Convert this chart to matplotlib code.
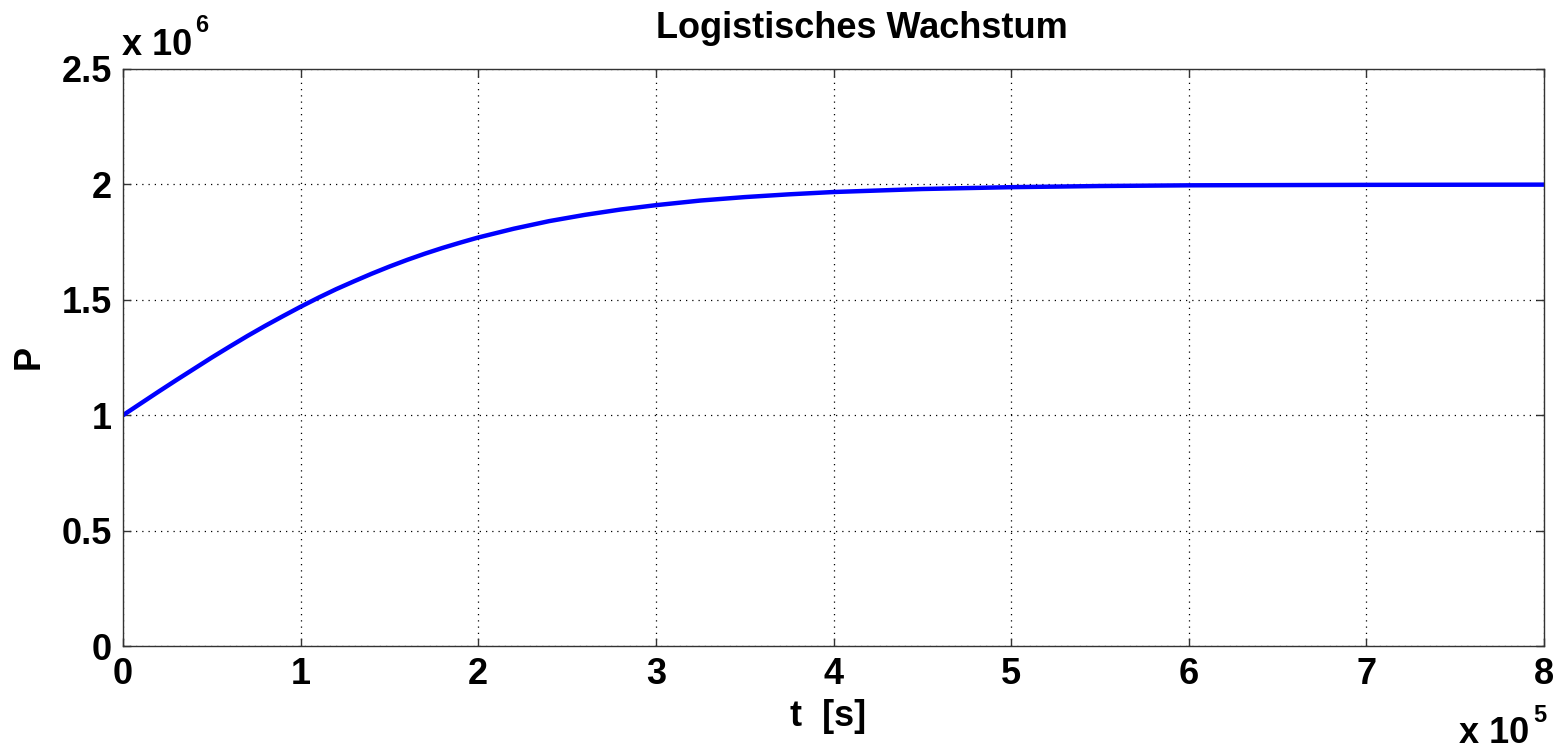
import numpy as np
import matplotlib
matplotlib.use("Agg")
import matplotlib.pyplot as plt

plt.rcParams["font.family"] = ["Liberation Sans", "DejaVu Sans"]
plt.rcParams["font.weight"] = "bold"

# time in units of 1e5 s, population in units of 1e6
t_e5 = [0, 0.1, 0.2, 0.3, 0.4, 0.5, 0.6, 0.7, 0.8, 0.9, 1.0, 1.1, 1.2, 1.3, 1.4, 1.5,
        1.6, 1.7, 1.8, 1.9, 2.0, 2.2, 2.4, 2.6, 2.8, 3.0, 3.25, 3.5, 3.75, 4.0, 4.5,
        5.0, 5.5, 6.0, 6.5, 7.0, 8.0]
p_e6 = [1.000, 1.051, 1.102, 1.152, 1.201, 1.250, 1.297, 1.343, 1.387, 1.429, 1.470,
        1.509, 1.546, 1.580, 1.613, 1.644, 1.673, 1.700, 1.725, 1.748, 1.770, 1.808,
        1.841, 1.868, 1.891, 1.910, 1.930, 1.945, 1.957, 1.967, 1.980, 1.988, 1.993,
        1.996, 1.997, 1.998, 1.999]

x_ticks = [0, 1, 2, 3, 4, 5, 6, 7, 8]
y_ticks = [0, 0.5, 1, 1.5, 2, 2.5]
y_ticklabels = ["0", "0.5", "1", "1.5", "2", "2.5"]

W, H = 1555, 751
fig = plt.figure(figsize=(W / 100, H / 100), dpi=100)
ax = fig.add_axes([123 / W, 1 - 646 / H, (1544 - 123) / W, (646 - 69) / H])

ax.plot(t_e5, p_e6, color="#0000ff", linewidth=3.2, solid_joinstyle="round")

ax.set_xlim(0, 8)
ax.set_ylim(0, 2.5)
ax.set_xticks(x_ticks)
ax.set_yticks(y_ticks)
ax.set_yticklabels(y_ticklabels)
ax.tick_params(direction="in", length=6, width=1, top=True, right=True,
               labelsize=26, pad=8, colors="#333333", labelcolor="black")
for lbl in ax.get_xticklabels() + ax.get_yticklabels():
    lbl.set_fontweight("bold")
ax.grid(True, color="black", linestyle=(0, (1, 4)), linewidth=0.9)
for sp in ax.spines.values():
    sp.set_color("#333333")
    sp.set_linewidth(1.0)

fig.text(862 / W, 1 - 28 / H, "Logistisches Wachstum", ha="center", va="center",
         fontsize=26, fontweight="bold")
fig.text(828 / W, 1 - 716 / H, "t  [s]", ha="center", va="center",
         fontsize=26, fontweight="bold")
fig.text(29 / W, 1 - 357 / H, "P", ha="center", va="center", rotation=90,
         fontsize=26, fontweight="bold")

# exponent labels (MATLAB style)
fig.text(122 / W, 1 - 55 / H, "x 10", ha="left", va="baseline", fontsize=26, fontweight="bold")
fig.text(195 / W, 1 - 32 / H, "6", ha="left", va="baseline", fontsize=17, fontweight="bold")
fig.text(1459 / W, 1 - 743 / H, "x 10", ha="left", va="baseline", fontsize=26, fontweight="bold")
fig.text(1533 / W, 1 - 722 / H, "5", ha="left", va="baseline", fontsize=17, fontweight="bold")

fig.savefig("out.png", dpi=100)
